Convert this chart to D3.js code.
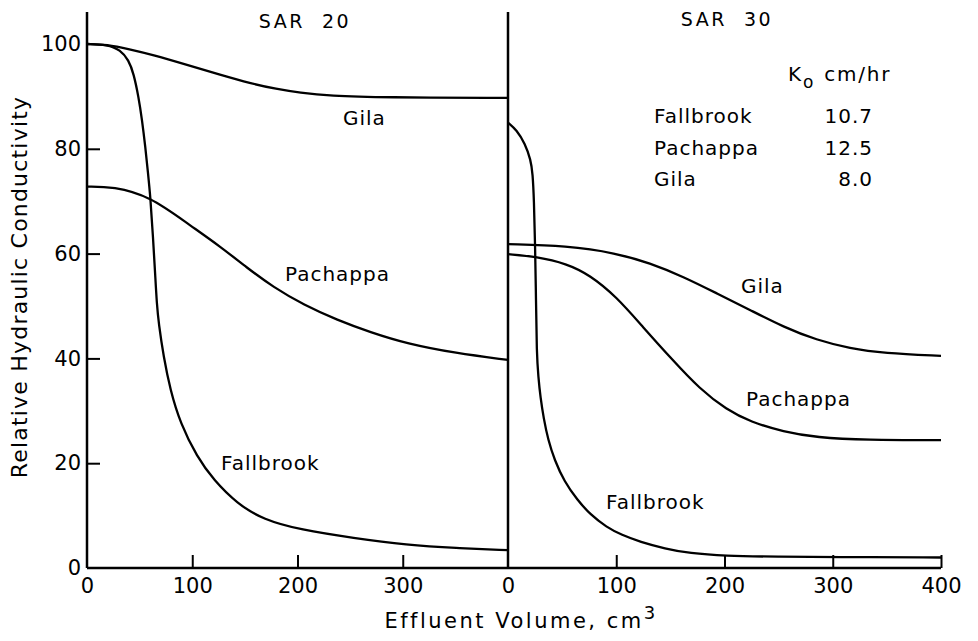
<!DOCTYPE html>
<html>
<head>
<meta charset="utf-8">
<script src="https://cdn.jsdelivr.net/npm/d3@7"></script>
<style>
  body { margin: 0; background: #fff; }
  text { font-family: "DejaVu Sans", sans-serif; fill: #000; }
</style>
</head>
<body>
<div id="chart"></div>
<script>
// Relative hydraulic conductivity vs effluent volume, two SAR panels

////////////////////////////////////////////////////////////////////////
// data
let panels = ["SAR 20", "SAR 30"];
let soils = ["Fallbrook", "Pachappa", "Gila"];
let k0 = ["10.7", "12.5", "8.0"];

let yTicks = [0, 20, 40, 60, 80, 100];
let leftTicks = [0, 100, 200, 300];
let rightTicks = [0, 100, 200, 300, 400];

// SAR 20
let sar20Gila = [[0, 100], [19, 99.9], [40, 99], [63, 97.9], [95, 96], [127, 94.1], [155, 92.5],
  [180, 91.4], [202, 90.7], [231, 90.1], [280, 89.8], [400, 89.7]];
let sar20Pachappa = [[0, 72.8], [25, 72.8], [60, 70.9], [95, 65.8], [127, 61.3], [152, 57.3],
  [177, 53.6], [206, 50.2], [238, 47.3], [269, 45], [304, 42.8], [350, 41], [400, 39.7]];
let sar20Fallbrook = [[0, 100], [19, 99.9], [31.7, 98.9], [39.6, 96.9], [44.3, 94.4], [49, 89.9],
  [52.3, 85.5], [55.4, 80.4], [58, 75.3], [60.2, 70.9], [62.7, 63.2], [64.9, 55.6], [66.3, 50.5],
  [68.1, 46.7], [72.8, 40.3], [79.1, 34], [88.7, 27.6], [104.5, 21.2], [120.3, 16.8], [142.5, 12.3],
  [167.8, 9.2], [202.6, 7.3], [253.3, 5.7], [304, 4.4], [350, 3.8], [400, 3.4]];

// SAR 30
let sar30Gila = [[0, 61.8], [54, 61.5], [100, 60.1], [131, 58.2], [162, 55.6], [193, 52.4],
  [224, 49.2], [254.5, 46], [285, 43.5], [316, 41.9], [347, 41], [400, 40.5]];
let sar30Pachappa = [[0, 59.9], [26.5, 59.4], [54, 58.1], [75.7, 55.9], [100, 51.8], [124.6, 46],
  [152, 39.7], [177, 34.2], [202, 30.2], [224, 27.9], [254.5, 26], [285, 24.9], [331, 24.4], [400, 24.4]];
let sar30Fallbrook = [[0, 85], [8, 83.6], [15.7, 81], [21, 77.9], [22.8, 75.3], [24, 70.2], [25, 62],
  [25.9, 51.1], [26.5, 41], [28, 36.5], [30, 32.5], [33, 28.5], [37, 24.5], [43, 20.6], [52, 16.5],
  [64, 13], [76, 10.2], [91, 7.8], [105, 6.3], [122, 5], [145, 3.7], [168, 2.8], [199, 2.3],
  [250, 2.15], [300, 2.1], [400, 2.0]];

////////////////////////////////////////////////////////////////////////
// canvas
let width = 978;
let height = 641;

let svg = d3.select("#chart")
  .append("svg")
  .attr("width", width).attr("height", height);

let yScale = d3.scaleLinear().domain([0, 100]).range([568, 44]);
let xLeft = d3.scaleLinear().domain([0, 400]).range([87, 508]);
let xRight = d3.scaleLinear().domain([0, 400]).range([508, 941]);

let axisTop = 12;
let tickLen = 13;

////////////////////////////////////////////////////////////////////////
// axes
let frame = svg.append("g")
  .attr("stroke", "#000")
  .attr("stroke-width", 2.5)
  .attr("fill", "none");

frame.append("line")
  .attr("x1", xLeft(0)).attr("x2", xLeft(0))
  .attr("y1", axisTop).attr("y2", yScale(0));
frame.append("line")
  .attr("x1", xRight(0)).attr("x2", xRight(0))
  .attr("y1", axisTop).attr("y2", yScale(0));
frame.append("line")
  .attr("x1", xLeft(0)).attr("x2", xRight(400))
  .attr("y1", yScale(0)).attr("y2", yScale(0));

function styleAxis(g) {
  g.select(".domain").remove();
  g.selectAll(".tick line").attr("stroke", "#000").attr("stroke-width", 2);
  g.selectAll(".tick text")
    .attr("font-family", "DejaVu Sans, sans-serif")
    .attr("font-size", 21)
    .attr("fill", "#000");
}

svg.append("g")
  .attr("transform", "translate(" + xLeft(0) + ",0)")
  .call(d3.axisLeft(yScale).tickValues(yTicks).tickSize(-tickLen).tickPadding(6))
  .call(styleAxis)
  .call(g => g.selectAll(".tick").filter(d => d == 0 || d == 100).select("line").remove());

svg.append("g")
  .attr("transform", "translate(0," + yScale(0) + ")")
  .call(d3.axisBottom(xLeft).tickValues(leftTicks).tickSize(-tickLen).tickPadding(10))
  .call(styleAxis)
  .call(g => g.selectAll(".tick").filter(d => d == 0).select("line").remove());

svg.append("g")
  .attr("transform", "translate(0," + yScale(0) + ")")
  .call(d3.axisBottom(xRight).tickValues(rightTicks).tickSize(-tickLen).tickPadding(10))
  .call(styleAxis)
  .call(g => g.selectAll(".tick").filter(d => d == 0).select("line").remove());

////////////////////////////////////////////////////////////////////////
// curves (B-spline through the read-off points to smooth hand-drawn noise)
let lineLeft = d3.line()
  .x(d => xLeft(d[0])).y(d => yScale(d[1]))
  .curve(d3.curveBasis);
let lineRight = d3.line()
  .x(d => xRight(d[0])).y(d => yScale(d[1]))
  .curve(d3.curveBasis);

let curves = svg.append("g")
  .attr("fill", "none")
  .attr("stroke", "#000")
  .attr("stroke-width", 2.3)
  .attr("stroke-linejoin", "round");

[sar20Gila, sar20Pachappa, sar20Fallbrook].forEach(function (s) {
  curves.append("path").attr("d", lineLeft(s));
});
[sar30Gila, sar30Pachappa, sar30Fallbrook].forEach(function (s) {
  curves.append("path").attr("d", lineRight(s));
});

////////////////////////////////////////////////////////////////////////
// text
let labelFont = 20;

function addText(x, y, str, size, anchor, spacing) {
  return svg.append("text")
    .attr("x", x).attr("y", y)
    .attr("font-size", size)
    .attr("letter-spacing", spacing == null ? 1 : spacing)
    .attr("text-anchor", anchor || "start")
    .style("white-space", "pre")
    .text(str);
}

// panel titles
addText(305, 28, panels[0].replace(" ", "  "), 19, "middle", 2.5);
addText(727, 26, panels[1].replace(" ", "  "), 19, "middle", 2.5);

// curve labels (SAR 20)
addText(343, 125, soils[2], labelFont);
addText(285, 281, soils[1], labelFont);
addText(221, 470, soils[0], labelFont);
// curve labels (SAR 30)
addText(741, 293, soils[2], labelFont);
addText(746, 406, soils[1], labelFont);
addText(606, 509, soils[0], labelFont);

// K0 table
let head = svg.append("text")
  .attr("x", 788).attr("y", 81)
  .attr("font-size", labelFont)
  .attr("letter-spacing", 1.8);
head.append("tspan").text("K");
head.append("tspan").attr("dy", 7).attr("font-size", 17).text("o");
head.append("tspan").attr("dy", -7).attr("dx", 9).text("cm/hr");

let rowY = [123, 155, 186];
soils.forEach(function (s, i) {
  addText(654, rowY[i], s, labelFont);
  addText(873, rowY[i], k0[i], labelFont, "end");
});

// axis titles
svg.append("text")
  .attr("transform", "translate(27," + 287 + ") rotate(-90)")
  .attr("text-anchor", "middle")
  .attr("font-size", 22)
  .attr("letter-spacing", 1.2)
  .text("Relative Hydraulic Conductivity");

let xt = svg.append("text")
  .attr("x", 521).attr("y", 628)
  .attr("text-anchor", "middle")
  .attr("font-size", 21)
  .attr("letter-spacing", 2.5);
xt.append("tspan").text("Effluent Volume, cm");
xt.append("tspan").attr("dy", -9).attr("font-size", 18).text("3");
</script>
</body>
</html>
